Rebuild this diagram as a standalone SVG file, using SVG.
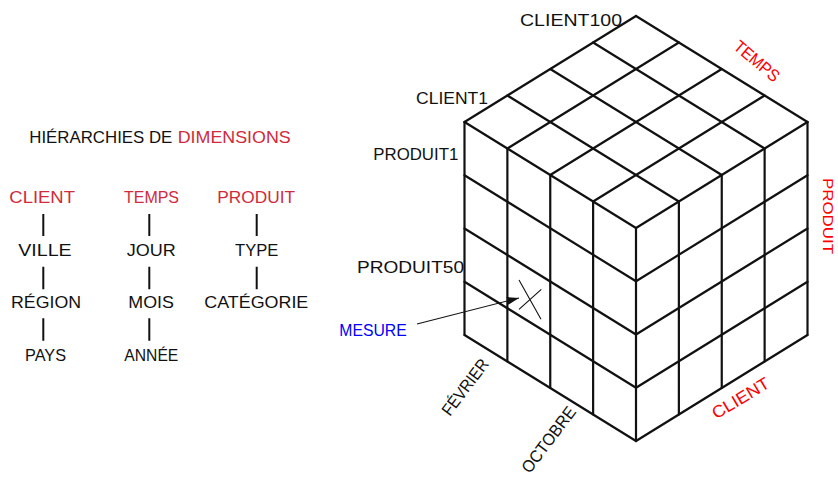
<svg xmlns="http://www.w3.org/2000/svg" width="838" height="477" viewBox="0 0 838 477">
<style>
  text { font-family: "Liberation Sans", "DejaVu Sans", Arial, sans-serif; font-size: 17px; fill: #111; }
  .dim { fill: #d02a3c; }
  .red { fill: #ff0000; }
  .blue { fill: #0000ff; }
  .bar { stroke: #111; stroke-width: 2; fill: none; }
  .cube { stroke: #111; stroke-width: 2.2; fill: none; stroke-linecap: round; stroke-linejoin: round; }
  .thin { stroke: #111; stroke-width: 1.1; fill: none; }
</style>
<defs>
  <marker id="arrow" viewBox="0 0 12 8" refX="12" refY="4" markerWidth="12" markerHeight="8" markerUnits="userSpaceOnUse" orient="auto">
    <path d="M0,0 L12,4 L0,8 Z" fill="#111"/>
  </marker>
</defs>
<rect width="838" height="477" fill="#ffffff"/>

<g id="title">
  <text x="29.3" y="142.5" textLength="143" lengthAdjust="spacingAndGlyphs">HIÉRARCHIES DE</text>
  <text class="dim" x="177.7" y="142.5" textLength="113" lengthAdjust="spacingAndGlyphs">DIMENSIONS</text>
</g>

<g id="hierarchy-client">
  <text class="dim" x="9.3" y="203.3" textLength="65.7" lengthAdjust="spacingAndGlyphs">CLIENT</text>
  <text x="18.3" y="255.7" textLength="53.4" lengthAdjust="spacingAndGlyphs">VILLE</text>
  <text x="11" y="308.3" textLength="70" lengthAdjust="spacingAndGlyphs">RÉGION</text>
  <text x="25" y="360.7" textLength="41" lengthAdjust="spacingAndGlyphs">PAYS</text>
</g>
<g id="hierarchy-temps">
  <text class="dim" x="124" y="203.3" textLength="55" lengthAdjust="spacingAndGlyphs">TEMPS</text>
  <text x="126.7" y="255.7" textLength="49" lengthAdjust="spacingAndGlyphs">JOUR</text>
  <text x="128.3" y="308.3" textLength="45.7" lengthAdjust="spacingAndGlyphs">MOIS</text>
  <text x="124.3" y="360.7" textLength="54" lengthAdjust="spacingAndGlyphs">ANNÉE</text>
</g>
<g id="hierarchy-produit">
  <text class="dim" x="217.3" y="203.3" textLength="77.7" lengthAdjust="spacingAndGlyphs">PRODUIT</text>
  <text x="235" y="255.7" textLength="43.3" lengthAdjust="spacingAndGlyphs">TYPE</text>
  <text x="204.3" y="308.3" textLength="104" lengthAdjust="spacingAndGlyphs">CATÉGORIE</text>
</g>

<g id="connectors">
  <path class="bar" d="M43.3,214 V236 M43.3,266.7 V289.3 M43.3,318.3 V340.7"/>
  <path class="bar" d="M149.3,214 V236 M149.3,266.7 V289.3 M149.3,318.3 V340.7"/>
  <path class="bar" d="M256.7,214 V236 M256.7,266.7 V289.3"/>
  <line class="thin" x1="417" y1="324" x2="519" y2="298" marker-end="url(#arrow)"/>
</g>

<g id="cube">
  <g id="cube-top">
    <path class="cube" d="M636,16 L464.5,122 M678.875,42.5 L507.375,148.5 M721.75,69 L550.25,175 M764.625,95.5 L593.125,201.5 M807.5,122 L636,228"/>
    <path class="cube" d="M636,16 L807.5,122 M593.125,42.5 L764.625,148.5 M550.25,69 L721.75,175 M507.375,95.5 L678.875,201.5 M464.5,122 L636,228"/>
  </g>
  <g id="cube-left">
    <path class="cube" d="M464.5,122 V335 M507.375,148.5 V361.5 M550.25,175 V388 M593.125,201.5 V414.5 M636,228 V441"/>
    <path class="cube" d="M464.5,175.25 L636,281.25 M464.5,228.5 L636,334.5 M464.5,281.75 L636,387.75 M464.5,335 L636,441"/>
  </g>
  <g id="cube-right">
    <path class="cube" d="M678.875,201.5 V414.5 M721.75,175 V388 M764.625,148.5 V361.5 M807.5,122 V335"/>
    <path class="cube" d="M636,281.25 L807.5,175.25 M636,334.5 L807.5,228.5 M636,387.75 L807.5,281.75 M636,441 L807.5,335"/>
  </g>
  <g id="measure-cell">
    <path class="thin" d="M519,280 L541,319.3 M541.3,289.3 L519,309.3"/>
  </g>
</g>

<g id="cube-labels">
  <text x="520" y="26" textLength="102" lengthAdjust="spacingAndGlyphs">CLIENT100</text>
  <text x="416" y="104" textLength="72" lengthAdjust="spacingAndGlyphs">CLIENT1</text>
  <text x="373.3" y="160" textLength="85" lengthAdjust="spacingAndGlyphs">PRODUIT1</text>
  <text x="357" y="273.3" textLength="107" lengthAdjust="spacingAndGlyphs">PRODUIT50</text>
  <text class="blue" x="339.3" y="336" textLength="67.4" lengthAdjust="spacingAndGlyphs">MESURE</text>
  <text class="red" transform="translate(757,61) rotate(40)" x="0" y="6" text-anchor="middle" textLength="54" lengthAdjust="spacingAndGlyphs">TEMPS</text>
  <text class="red" transform="translate(823,178) rotate(90)" x="0" y="0" style="font-size:15px" textLength="76" lengthAdjust="spacingAndGlyphs">PRODUIT</text>
  <text class="red" transform="translate(740.5,398) rotate(-31)" x="0" y="6" text-anchor="middle" textLength="64" lengthAdjust="spacingAndGlyphs">CLIENT</text>
  <text transform="translate(465,387) rotate(-53)" x="0" y="6" text-anchor="middle" textLength="66" lengthAdjust="spacingAndGlyphs">FÉVRIER</text>
  <text transform="translate(548.5,439.5) rotate(-53)" x="0" y="6" text-anchor="middle" textLength="78" lengthAdjust="spacingAndGlyphs">OCTOBRE</text>
</g>
</svg>
